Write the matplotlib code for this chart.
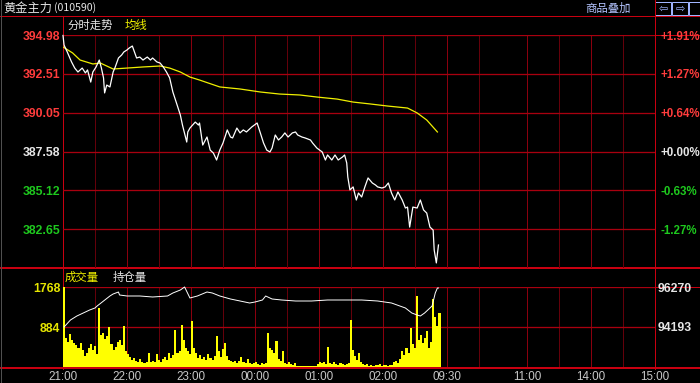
import matplotlib.pyplot as plt
import matplotlib.patches as mpatches
import numpy as np

plt.rcParams['font.family'] = ['Noto Sans CJK SC', 'DejaVu Sans']

# ---- axis scales ----
price_ticks = [382.65, 385.12, 387.58, 390.05, 392.51, 394.98]
pct_labels = ['-1.27%', '-0.63%', '+0.00%', '+0.64%', '+1.27%', '+1.91%']
price_low = 380.18
vol_ticks = [884, 1768]
oi_ticks = [94193, 96270]
oi_low = 92116

# trading minutes since 21:00 (night 21:00-02:30, then 09:00-10:15, 10:30-11:30, 13:30-15:00)
session_len = 555
time_ticks = [0, 60, 120, 180, 240, 300, 360, 435, 495, 555]
time_labels = ['21:00', '22:00', '23:00', '00:00', '01:00', '02:00', '09:30', '11:00', '14:00', '15:00']
grid_minutes = [30, 60, 90, 120, 150, 180, 210, 240, 270, 300, 330, 360, 390, 435, 465, 495, 525]

# ---- price (white line) ----
price_min = [0, 1, 4, 8, 11, 14, 18, 21, 23, 26, 28, 31, 34, 36, 38, 39, 41, 44, 47, 49,
             52, 55, 57, 60, 62, 65, 67, 69, 72, 75, 79, 82, 84, 88, 91, 94, 97, 100, 103, 107,
             110, 112, 116, 117, 119, 124, 127, 128, 131, 135, 138, 141, 144, 147, 150, 154, 157, 159, 163, 166,
             169, 172, 177, 182, 185, 188, 191, 194, 196, 199, 202, 205, 208, 211, 215, 218, 220, 224, 227, 232,
             234, 238, 243, 246, 248, 252, 255, 258, 262, 264, 266, 267, 269, 272, 275, 277, 280, 283, 286, 290,
             293, 295, 299, 302, 305, 308, 311, 314, 318, 321, 323, 325, 328, 332, 335, 338, 341, 344, 347, 348,
             350, 352]
price = [394.95, 394.34, 393.90, 393.27, 392.88, 392.63, 392.88, 392.57, 392.76, 391.99,
         392.63, 392.95, 393.39, 392.88, 392.25, 391.30, 391.80, 391.68, 392.63, 392.95,
         393.52, 393.71, 393.90, 394.03, 394.15, 394.28, 393.90, 393.52, 393.58, 393.39,
         393.58, 393.39, 393.52, 393.27, 393.20, 392.95, 392.63, 392.25, 391.36, 390.53,
         389.90, 389.26, 388.18, 388.82, 389.07, 389.45, 389.26, 389.39, 387.99, 388.50,
         387.67, 387.48, 387.04, 387.67, 388.12, 388.95, 388.50, 388.44, 389.07, 388.76,
         388.95, 388.82, 389.14, 389.39, 388.76, 388.12, 387.67, 387.55, 387.80, 388.63,
         388.31, 388.50, 388.76, 388.50, 388.76, 388.82, 388.63, 388.50, 388.44, 388.31,
         388.12, 387.80, 387.55, 387.04, 387.36, 387.04, 387.36, 387.04, 387.23, 387.36,
         386.85, 385.96, 385.14, 385.33, 384.50, 384.94, 384.69, 385.33, 385.90, 385.58,
         385.45, 385.33, 385.26, 385.33, 385.58, 384.94, 384.50, 385.01, 384.50, 383.99,
         384.05, 382.78, 384.05, 383.99, 384.50, 383.87, 383.67, 382.78, 382.59, 381.32,
         380.50, 381.64]

# ---- average price (yellow line) ----
avg_min = [0, 9, 16, 28, 35, 47, 60, 75, 91, 100, 110, 119, 128, 147, 166, 185, 203, 222,
           238, 257, 272, 288, 304, 323, 332, 341, 351]
avg_price = [394.22, 393.84, 393.39, 393.14, 393.20, 392.82, 392.88, 392.95, 393.01, 392.88,
             392.63, 392.31, 392.12, 391.68, 391.55, 391.36, 391.23, 391.17, 391.04, 390.91,
             390.72, 390.60, 390.47, 390.34, 390.03, 389.58, 388.82]

# ---- volume bars (2-minute buckets) ----
volume = [1768, 650, 560, 720, 600, 520, 480, 430, 520, 380, 250, 300, 420, 510, 380, 460, 280,
          1300, 700, 750, 620, 680, 880, 500, 380, 450, 560, 600, 480, 910, 350, 280, 220,
          150, 200, 130, 110, 170, 120, 90, 120, 310, 100, 130, 120, 280, 150, 110, 180,
          220, 150, 300, 190, 260, 810, 300, 350, 920, 600, 430, 350, 280, 1010, 420, 300, 200, 260,
          180, 230, 150, 280, 200, 160, 250, 680, 350, 220, 400, 520, 240, 160, 140, 110, 130,
          90, 140, 230, 120, 90, 170, 80, 60, 80, 120, 70, 50, 90, 60, 80, 750, 420, 380, 300,
          570, 180, 140, 350, 90, 60, 110, 70, 50, 80, 30, 20, 15, 25, 20, 15, 30, 20, 25, 20,
          60, 100, 80, 120, 70, 440, 80, 60, 110, 70, 50, 90, 60, 40, 70, 80, 1030, 380, 240, 160,
          310, 120, 60, 40, 70, 30, 50, 25, 35, 40, 60, 30, 35, 55, 25, 40, 50, 110, 140, 90, 170,
          350, 260, 430, 320, 860, 500, 430, 1560, 600, 700, 520, 650, 800, 430, 560, 1500, 1100,
          900, 1200]

# ---- open interest (white line in lower panel) ----
oi_min = [1, 7, 13, 19, 25, 30, 32, 38, 44, 47, 52, 53, 60, 72, 84, 98, 103, 110, 114, 119,
          126, 135, 140, 147, 157, 166, 175, 180, 187, 190, 196, 205, 218, 233, 248, 264, 280, 295, 308, 321,
          327, 332, 335, 339, 346, 349, 351, 352]
open_interest = [94193, 94557, 94764, 94920, 95076, 95180, 95283, 95543, 95803, 95907, 96010, 95855,
                 95803, 95803, 95751, 95803, 95958, 96114, 96270, 95699, 95803, 96010, 95958, 95803,
                 95647, 95543, 95439, 95491, 95595, 95803, 95647, 95595, 95543, 95543, 95595, 95595,
                 95595, 95543, 95439, 95180, 94920, 94816, 94764, 94920, 95283, 95958, 96218, 96218]

RED = '#ff3c3c'
GREEN = '#1ec81e'
WHITE = '#e6e6e6'
YELLOW = '#f0f000'
GRID_H = '#a8000f'
GRID_V = '#64000a'
GRID_V2 = '#8a000e'
FRAME = '#c80010'
W, H = 700, 383


def main():
    fig = plt.figure(figsize=(W / 100, H / 100), dpi=100, facecolor='black')

    # background layer in pixel units for frame lines and header texts
    bg = fig.add_axes([0, 0, 1, 1], zorder=0)
    bg.set_xlim(0, W)
    bg.set_ylim(H, 0)
    bg.axis('off')
    bg.set_facecolor('black')
    px = 0.72
    bg.plot([0, W], [16, 16], color=FRAME, lw=px)
    bg.plot([63, W], [34.5, 34.5], color=FRAME, lw=px)
    bg.plot([0, W], [268, 268], color=FRAME, lw=2 * px)
    bg.plot([63, W], [286.5, 286.5], color=FRAME, lw=px)
    bg.plot([0, W], [367.5, 367.5], color=FRAME, lw=2 * px)
    bg.plot([63, 63], [16, 369], color=FRAME, lw=px)
    bg.plot([655, 655], [0, 369], color=FRAME, lw=px)
    bg.plot([1, 1], [0, 383], color='#505050', lw=px)

    bg.text(3, 8, '黄金主力', color=WHITE, fontsize=8.8, va='center', ha='left')
    bg.text(54, 8, '(010590)', color=WHITE, fontsize=7.6, va='center', ha='left')
    bg.text(67, 25, '分时走势', color=WHITE, fontsize=8.2, va='center', ha='left')
    bg.text(125, 25, '均线', color=YELLOW, fontsize=8.2, va='center', ha='left')
    bg.text(65, 277, '成交量', color=YELLOW, fontsize=8.2, va='center', ha='left')
    bg.text(113, 277, '持仓量', color=WHITE, fontsize=8.2, va='center', ha='left')
    bg.text(585, 8, '商品叠加', color='#b4c4ff', fontsize=8.2, va='center', ha='left')
    for x0, w, s in [(655, 16, '⇦'), (672, 16, '⇨'), (689, 14, '')]:
        bg.add_patch(mpatches.Rectangle((x0, 2), w, 13, fill=False, ec='#a0b4ff', lw=px))
        if s:
            bg.text(x0 + w / 2, 8.5, s, color='#a0b4ff', fontsize=8, ha='center', va='center',
                    family='DejaVu Sans')

    # ---- price panel ----
    ax = fig.add_axes([63 / W, 1 - 268 / H, 592 / W, 233 / H], zorder=1)
    ax.set_facecolor('none')
    ax.set_xlim(0, session_len)
    ax.set_ylim(price_low, price_ticks[-1])
    for m in grid_minutes:
        c = GRID_V2 if m in time_ticks else GRID_V
        ax.axvline(m, color=c, lw=px, zorder=1)
    for p in price_ticks:
        ax.axhline(p, color=GRID_H, lw=1.3 * px, zorder=1)
    ax.plot(avg_min, avg_price, color=YELLOW, lw=0.9, zorder=3)
    ax.plot(price_min, price, color='white', lw=0.9, zorder=4, clip_on=False)
    for s in ax.spines.values():
        s.set_visible(False)
    ax.set_xticks([])
    ax.set_yticks(price_ticks)
    ax.set_yticklabels([f'{p:.2f}' for p in price_ticks])
    ax.tick_params(axis='y', length=0, pad=2)
    colors = [GREEN, GREEN, WHITE, RED, RED, RED]
    for lbl, c in zip(ax.get_yticklabels(), colors):
        lbl.set_color(c)
        lbl.set_family('Liberation Sans')
        lbl.set_fontweight('bold')
        lbl.set_fontsize(8.8)

    ax2 = ax.twinx()
    ax2.set_ylim(ax.get_ylim())
    ax2.set_yticks(price_ticks)
    ax2.set_yticklabels(pct_labels)
    ax2.tick_params(axis='y', length=0, pad=4)
    for s in ax2.spines.values():
        s.set_visible(False)
    for lbl, c in zip(ax2.get_yticklabels(), colors):
        lbl.set_color(c)
        lbl.set_family('Liberation Sans')
        lbl.set_fontweight('bold')
        lbl.set_fontsize(8.3)

    # ---- volume / open interest panel ----
    vx = fig.add_axes([63 / W, 1 - 367 / H, 592 / W, 80 / H], zorder=1)
    vx.set_facecolor('none')
    vx.set_xlim(0, session_len)
    vx.set_ylim(0, vol_ticks[-1])
    for m in grid_minutes:
        c = GRID_V2 if m in time_ticks else GRID_V
        vx.axvline(m, color=c, lw=px, zorder=1)
    for v in vol_ticks:
        vx.axhline(v, color=GRID_H, lw=1.3 * px, zorder=1)
    step = price_min[-1] / (len(volume) - 1)
    vol_x = np.arange(len(volume)) * step
    vx.bar(vol_x, volume, width=step, color='#ffff00', linewidth=0, align='edge', zorder=3)
    for s in vx.spines.values():
        s.set_visible(False)
    vx.set_yticks(vol_ticks)
    vx.set_yticklabels([str(v) for v in vol_ticks])
    vx.tick_params(axis='y', length=0, pad=2)
    for lbl in vx.get_yticklabels():
        lbl.set_color('#e6e600')
        lbl.set_family('Liberation Sans')
        lbl.set_fontweight('bold')
        lbl.set_fontsize(8.8)
    vx.set_xticks(time_ticks)
    vx.set_xticklabels(time_labels)
    vx.tick_params(axis='x', length=0, pad=3, colors='#c8c8c8')
    for lbl in vx.get_xticklabels():
        lbl.set_family('Liberation Sans')
        lbl.set_fontsize(8.4)

    ox = vx.twinx()
    ox.set_ylim(oi_low, oi_ticks[-1])
    ox.plot(oi_min, open_interest, color='white', lw=0.7, zorder=4, clip_on=False)
    ox.set_yticks(oi_ticks)
    ox.set_yticklabels([str(v) for v in oi_ticks])
    ox.tick_params(axis='y', length=0, pad=2)
    for s in ox.spines.values():
        s.set_visible(False)
    for lbl in ox.get_yticklabels():
        lbl.set_color(WHITE)
        lbl.set_family('Liberation Sans')
        lbl.set_fontweight('bold')
        lbl.set_fontsize(8.8)

    fig.savefig('out.png', dpi=100, facecolor='black')


if __name__ == '__main__':
    main()
